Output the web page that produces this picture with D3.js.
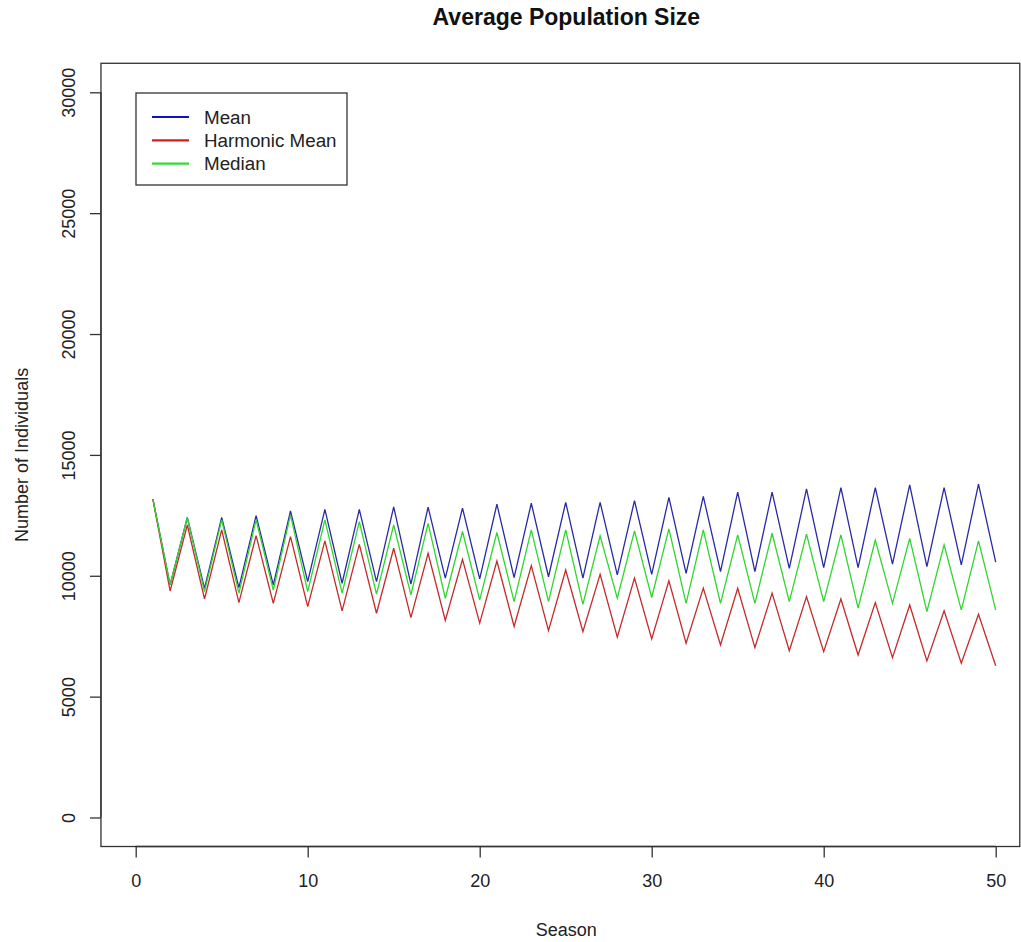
<!DOCTYPE html>
<html>
<head>
<meta charset="utf-8">
<script src="https://cdn.jsdelivr.net/npm/d3@7/dist/d3.min.js"></script>
<style>
  html, body { margin: 0; padding: 0; background: #fff; }
  svg { display: block; font-family: "Liberation Sans", Arial, sans-serif; }
</style>
</head>
<body>
<svg id="chart" width="1021" height="942"></svg>
<script>
// Season numbers 1..50
const seasons = [1,2,3,4,5,6,7,8,9,10,11,12,13,14,15,16,17,18,19,20,21,22,23,24,25,
                 26,27,28,29,30,31,32,33,34,35,36,37,38,39,40,41,42,43,44,45,46,47,48,49,50];

// Average population size per season
const meanValues = [13170,9620,12410,9480,12410,9510,12490,9620,12680,9760,
                    12750,9690,12750,9760,12850,9650,12840,9900,12800,9870,
                    12960,9920,13000,9960,13040,9900,13040,10040,13110,10060,
                    13240,10100,13280,10170,13460,10170,13460,10310,13590,10340,
                    13650,10340,13650,10480,13760,10380,13650,10450,13790,10560];

const harmonicValues = [13170,9370,12100,9040,11900,8890,11660,8860,11620,8720,
                        11440,8550,11300,8450,11140,8270,10930,8150,10680,8040,
                        10610,7900,10420,7730,10240,7690,10060,7460,9900,7390,
                        9790,7210,9490,7140,9480,7030,9280,6900,9140,6860,
                        9040,6720,8890,6610,8790,6480,8550,6380,8410,6280];

const medianValues = [13170,9620,12410,9340,12310,9280,12310,9410,12520,9340,
                      12310,9280,12240,9240,12100,9210,12170,9070,11830,9000,
                      11790,8930,11900,8930,11900,8820,11650,9070,11860,9100,
                      11940,8860,11900,8860,11690,8860,11760,8930,11720,8930,
                      11690,8660,11480,8860,11550,8520,11280,8590,11440,8590];

const xTicks = [0,10,20,30,40,50];
const yTicks = [0,5000,10000,15000,20000,25000,30000];

const seriesNames = ["Mean","Harmonic Mean","Median"];
const seriesColors = ["#2a2aa6","#c42a2a","#2fd62f"];
const legendColors = ["#1010c8","#d41c1c","#30dc30"];

const titleText = "Average Population Size";
const xLabel = "Season";
const yLabel = "Number of Individuals";

const svg = d3.select("#chart");

// Scales: plot frame spans the padded data range
const x = d3.scaleLinear().domain([0, 50]).range([135.7, 995.7]);
const y = d3.scaleLinear().domain([0, 30000]).range([817.5, 92.3]);
const frameX = [-2.02, 51.4];
const frameY = [-1200, 31200];

const ink = "#333";

// Lines
const series = [meanValues, harmonicValues, medianValues];
const line = d3.line().x((d, i) => x(seasons[i])).y(d => y(d));
series.forEach((vals, k) => {
  svg.append("path")
    .datum(vals)
    .attr("d", line)
    .attr("fill", "none")
    .attr("stroke", seriesColors[k])
    .attr("stroke-width", 1.3)
    .attr("stroke-linejoin", "miter");
});

// Frame
svg.append("rect")
  .attr("x", x(frameX[0])).attr("y", y(frameY[1]))
  .attr("width", x(frameX[1]) - x(frameX[0]))
  .attr("height", y(frameY[0]) - y(frameY[1]))
  .attr("fill", "none").attr("stroke", ink).attr("stroke-width", 1.3);

// X axis
const gx = svg.append("g")
  .attr("transform", `translate(0,${y(frameY[0])})`)
  .call(d3.axisBottom(x).tickValues(xTicks).tickSize(11).tickPadding(17).tickFormat(d3.format("d")));
gx.select(".domain").attr("stroke", ink).attr("stroke-width", 1.3)
  .attr("d", `M${x(0)},0H${x(50)}`);
gx.selectAll(".tick line").attr("stroke", ink).attr("stroke-width", 1.3);
gx.selectAll(".tick text").attr("fill", "#222").style("font-size", "18px")
  .attr("font-family", "Liberation Sans, Arial, sans-serif");

// Y axis with rotated labels
const gy = svg.append("g")
  .attr("transform", `translate(${x(frameX[0])},0)`)
  .call(d3.axisLeft(y).tickValues(yTicks).tickSize(11).tickFormat(d3.format("d")));
gy.select(".domain").attr("stroke", ink).attr("stroke-width", 1.3)
  .attr("d", `M0,${y(0)}V${y(30000)}`);
gy.selectAll(".tick line").attr("stroke", ink).attr("stroke-width", 1.3);
gy.selectAll(".tick text")
  .attr("fill", "#222").style("font-size", "18px")
  .attr("font-family", "Liberation Sans, Arial, sans-serif")
  .attr("x", null).attr("dy", null)
  .attr("text-anchor", "middle")
  .attr("transform", "translate(-32,0) rotate(-90)")
  .attr("dy", "0.35em");

// Title and axis labels
svg.append("text")
  .attr("x", (x(frameX[0]) + x(frameX[1])) / 2 + 6).attr("y", 25)
  .attr("text-anchor", "middle")
  .style("font-size", "23px").style("font-weight", "bold").attr("fill", "#111")
  .text(titleText);

svg.append("text")
  .attr("x", (x(frameX[0]) + x(frameX[1])) / 2 + 6).attr("y", 936)
  .attr("text-anchor", "middle")
  .style("font-size", "18px").attr("fill", "#222")
  .text(xLabel);

svg.append("text")
  .attr("transform", `translate(28,${(y(frameY[0]) + y(frameY[1])) / 2}) rotate(-90)`)
  .attr("text-anchor", "middle")
  .style("font-size", "18px").attr("fill", "#222")
  .text(yLabel);

// Legend
const legend = svg.append("g");
legend.append("rect")
  .attr("x", 136).attr("y", 93).attr("width", 211).attr("height", 92)
  .attr("fill", "#fff").attr("stroke", ink).attr("stroke-width", 1.3);
seriesNames.forEach((name, k) => {
  const ly = 117 + k * 23.3;
  legend.append("line")
    .attr("x1", 152).attr("x2", 189).attr("y1", ly).attr("y2", ly)
    .attr("stroke", legendColors[k]).attr("stroke-width", 2.2);
  legend.append("text")
    .attr("x", 204).attr("y", ly).attr("dy", "0.35em")
    .style("font-size", "18.8px").attr("fill", "#222")
    .text(name);
});
</script>
</body>
</html>
